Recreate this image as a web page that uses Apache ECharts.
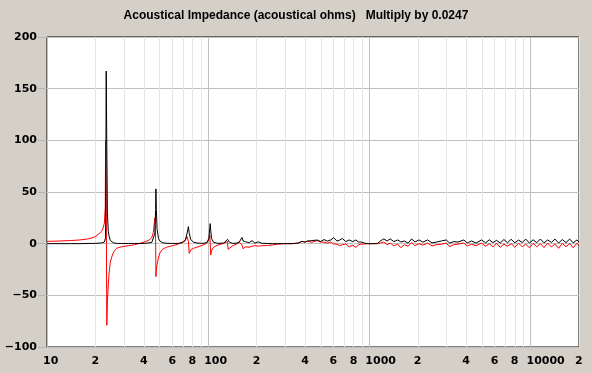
<!DOCTYPE html>
<html><head><meta charset="utf-8">
<script src="https://cdn.jsdelivr.net/npm/echarts@6/dist/echarts.min.js"></script>
<style>html,body{margin:0;padding:0;background:#d4d0c8;overflow:hidden}#c{width:592px;height:373px}</style>
</head><body><div id="c"></div>
<script>
const titleText = 'Acoustical Impedance (acoustical ohms)   Multiply by 0.0247';

const freqHz = [
  10,12,14,16,18,19,20,21,21.8,22.3,22.7,23.0,23.1,23.3,23.5,23.7,24.0,24.3,24.7,25.2,25.9,27,29,32,35,38,41,43,44.7,45.7,46.7,47.2,47.4,47.7,48.2,49.2,50.2,52,55,
  60,65,69,72,74,75.4,76.3,78,81,85,93,98,101,102.3,103,103.7,105,108,115,125,128,131.9,133,135.7,142,150,156,162,165,170,180,187,195,205,215,233,250,270,294,330,360,383,400,412,440,475,500,523,549,577,600,630,655,680,715,750,790,825,860,890,930,980,1050,1120,1170,1230,1290,1350,1420,1500,1570,1650,1740,1830,1920,2030,2150,2300,2450,2600,2800,3000,3150,3350,3550,3860,4050,4300,
  4600,4970,5270,5550,5850,6160,6490,6840,7200,7590,8000,8430,8880,9350,9850,10380,10940,11520,12140,12790,13470,14190,14950,15750,16600,17490,18420,19410,20000
];

const realPart = [
  0,0,0,0,0.2,0.2,0.3,0.5,0.7,1,1.5,3,6,167,95,30,12,7,3,1.5,0.8,0.3,0.2,0.2,0.2,0.2,0.4,0.8,1.2,2,10,33,53,33,14,5,2.5,1,0.4,
  0.2,0.3,0.8,3,10,16.5,10,4,1.5,0.6,0.3,1,5,15,19.4,13,5,1.3,0.3,0.6,1.3,4.2,3,1.3,0.3,0.5,1.5,6,2.5,1.9,1,2.9,0.5,1.8,0.4,0.2,0,0,0,0,0.5,2.2,1.5,2.5,3,3.5,2,4,2.5,3.6,5.8,2.5,3.5,5,2,3.6,2,3.6,1.5,1.6,0.6,0,0,0,2.6,4.6,2.6,4.6,2,3.6,1.6,2.6,0.5,4.6,1.6,3.6,1.5,3.6,0.8,1.5,2.6,3.6,0.6,2,1.5,3.6,0.6,2.6,
  0.6,3.6,0.8,3.8,1,3.2,0.6,4,1,4.2,0.8,3.5,1.2,4.4,0.6,3.8,1,4.5,0.8,3.6,1.2,4.4,0.6,4,1,4.5,0.8,3.6,1.5
];

const imagPart = [
  2.2,2.6,3.0,3.6,4.6,5.6,7,9.5,12,15,20,36,100,45,-79,-57,-40,-28,-18,-13,-8,-4.5,-3,-2,-1,0.5,2,3.5,6,11,25,5,-32,-26,-20,-13,-9,-5.5,-3.5,
  -2,-0.5,1.5,3,6.8,2,-9.3,-6,-4.5,-3.5,-1.3,0.5,3.6,8.4,0,-11,-6.7,-3.4,-1.3,0.3,1.5,2,-5.5,-4,-2,-0.5,1.3,-1,-5.1,-3,-3.5,-2.5,-1.9,-2.5,-2,-1.8,-1.3,-0.5,0,0,0.5,2.2,1.5,2.5,1.3,3,1.5,1.5,0.5,1.6,-0.3,-0.5,-1.9,-1,-0.3,-3,-1.5,-3.6,-1,-0.5,-0.3,0,0,0.2,0.6,1.6,-1,0.5,-2,-0.5,-3.9,-1,-2.5,1.2,-1.9,0,-1.5,0.6,-2.2,-1,-0.6,0.6,-2.9,-1,-0.5,0.6,-2.2,-0.6,
  -1.9,0.6,-2.5,0,-3,0.3,-3.5,-0.5,-2.5,0,-3.5,0.5,-3,-0.5,-4,0.3,-3,0,-3.8,0.5,-3.2,-0.3,-4.5,0.3,-3,0,-4,0.5,-2
];

const xGridValues = [10,20,30,40,50,60,70,80,90,100,200,300,400,500,600,700,800,900,1000,2000,3000,4000,5000,6000,7000,8000,9000,10000,20000];
const xLabelValues = [10,20,40,60,80,100,200,400,600,800,1000,2000,4000,6000,8000,10000,20000];
const xLabelTexts = ['10','2','4','6','8','100','2','4','6','8','1000','2','4','6','8','10000','2'];

const yMin = -100, yMax = 200, yStep = 50;

const chart = echarts.init(document.getElementById('c'), null, {renderer: 'canvas'});
const zip = (ys) => freqHz.map((f, i) => [f, ys[i]]);
const labelFont = {fontFamily: 'DejaVu Sans', fontWeight: 'bold', fontSize: 11, color: '#000'};

chart.setOption({
  animation: false,
  backgroundColor: '#d4d0c8',
  title: {
    text: titleText, left: 'center', top: 5,
    textStyle: {fontFamily: 'Liberation Sans', fontWeight: 'bold', fontSize: 12, color: '#000'}
  },
  grid: {left: 47, right: 13, top: 37, bottom: 26, show: true, backgroundColor: '#fff', borderColor: '#000', borderWidth: 1, containLabel: false},
  xAxis: {
    type: 'log', logBase: 10, min: 10, max: 20000,
    axisLine: {show: false},
    axisTick: {show: false, customValues: xGridValues},
    splitLine: {show: true, lineStyle: {width: 1, color: ['#c0c0c0','#e6e6e6','#e6e6e6','#e6e6e6','#e6e6e6','#e6e6e6','#e6e6e6','#e6e6e6','#e6e6e6']}},
    minorSplitLine: {show: false},
    axisLabel: Object.assign({
      customValues: xLabelValues, margin: 9, align: 'left', padding: [0, 0, 0, -4],
      showMinLabel: true, showMaxLabel: true, hideOverlap: false,
      formatter: (v) => { const i = xLabelValues.findIndex(x => Math.abs(x - v) / x < 1e-6); return i >= 0 ? xLabelTexts[i] : ''; }
    }, labelFont)
  },
  yAxis: {
    type: 'value', min: yMin, max: yMax, interval: yStep,
    axisLine: {show: false},
    axisTick: {show: true, length: 9, lineStyle: {color: '#b4b4b4'}},
    splitLine: {show: true, lineStyle: {color: '#c0c0c0', width: 1}},
    axisLabel: Object.assign({margin: 10, formatter: (v) => String(v).replace('-', '\u2212')}, labelFont)
  },
  series: [
    {type: 'line', data: zip(imagPart), showSymbol: false, symbol: 'none', lineStyle: {color: '#ff0000', width: 1}, itemStyle: {color: '#ff0000'}, z: 2},
    {type: 'line', data: zip(realPart), showSymbol: false, symbol: 'none', lineStyle: {color: '#000000', width: 1}, itemStyle: {color: '#000000'}, z: 3}
  ]
});
</script></body></html>
